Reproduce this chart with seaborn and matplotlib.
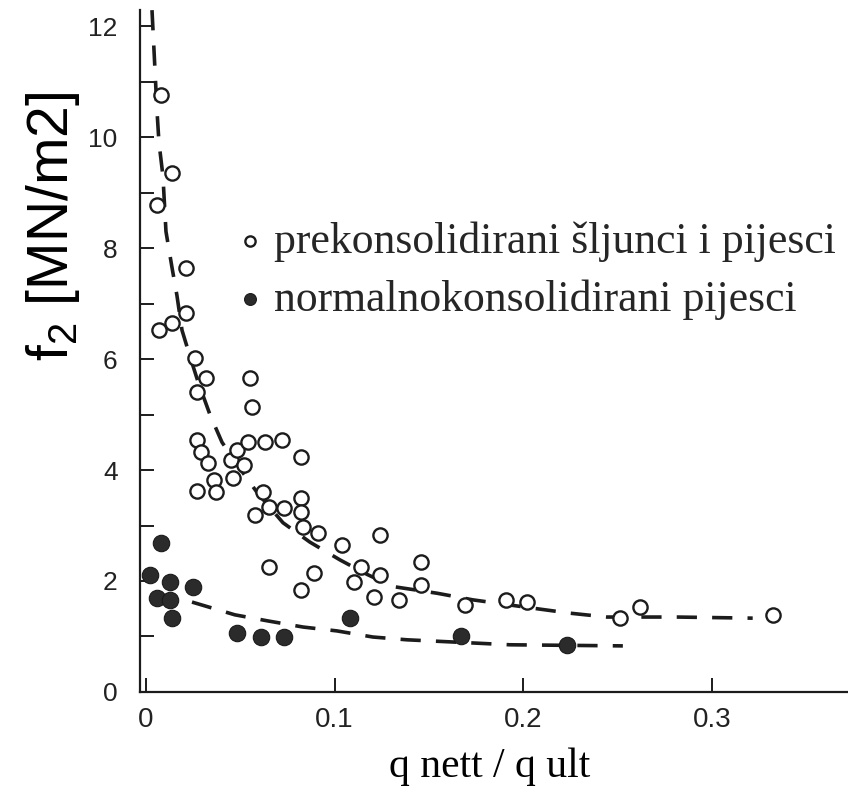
import numpy as np
import pandas as pd
import matplotlib
matplotlib.use("Agg")
import matplotlib.pyplot as plt
import seaborn as sns

# values
# open circles: overconsolidated gravels and sands
oc_x = [0.008, 0.014, 0.006, 0.021, 0.007, 0.014, 0.021, 0.026, 0.032, 0.027,
        0.055, 0.056, 0.027, 0.029, 0.033, 0.036, 0.027, 0.037, 0.046, 0.045,
        0.048, 0.052, 0.054, 0.063, 0.072, 0.082, 0.062, 0.058, 0.065, 0.073,
        0.082, 0.082, 0.083, 0.091, 0.065, 0.082, 0.089, 0.104, 0.110, 0.114,
        0.124, 0.124, 0.121, 0.134, 0.146, 0.146, 0.169, 0.191, 0.202, 0.251,
        0.262, 0.332]
oc_y = [10.76, 9.35, 8.77, 7.64, 6.52, 6.65, 6.83, 6.02, 5.66, 5.41,
        5.66, 5.14, 4.54, 4.32, 4.13, 3.82, 3.62, 3.60, 3.86, 4.18,
        4.36, 4.09, 4.50, 4.50, 4.54, 4.23, 3.60, 3.19, 3.33, 3.32,
        3.50, 3.24, 2.97, 2.86, 2.25, 1.84, 2.14, 2.65, 1.98, 2.25,
        2.83, 2.11, 1.71, 1.66, 2.34, 1.93, 1.57, 1.66, 1.62, 1.33,
        1.53, 1.39]

# filled circles: normally consolidated sands
nc_x = [0.008, 0.002, 0.013, 0.025, 0.006, 0.013, 0.014, 0.048, 0.061, 0.073,
        0.108, 0.167, 0.223]
nc_y = [2.68, 2.11, 1.98, 1.89, 1.69, 1.66, 1.33, 1.06, 0.99, 0.99,
        1.33, 1.01, 0.85]

# dashed trend curves
up_x = [0.0032, 0.0048, 0.0058, 0.0069, 0.009, 0.0106, 0.0138, 0.0164, 0.0191,
        0.0233, 0.0275, 0.0339, 0.0403, 0.0514, 0.0588, 0.0726, 0.0869, 0.1028,
        0.1171, 0.1308, 0.1541, 0.1732, 0.205, 0.2246, 0.2442, 0.2813, 0.3215]
up_y = [12.29, 11.2, 10.5, 9.9, 9.3, 8.3, 7.65, 7.15, 6.52,
        6.05, 5.6, 5.0, 4.5, 3.95, 3.6, 3.05, 2.7, 2.38,
        2.12, 1.9, 1.78, 1.66, 1.51, 1.42, 1.35, 1.35, 1.33]
lo_x = [0.0244, 0.0471, 0.0646, 0.0832, 0.1012, 0.1202, 0.1382, 0.1748, 0.1928, 0.2527]
lo_y = [1.62, 1.39, 1.28, 1.17, 1.10, 0.99, 0.94, 0.88, 0.85, 0.83]

lbl_oc = "prekonsolidirani šljunci i pijesci"
lbl_nc = "normalnokonsolidirani pijesci"
x_ticks = [0, 0.1, 0.2, 0.3]
x_ticklabels = ["0", "0.1", "0.2", "0.3"]
y_ticks = [0, 2, 4, 6, 8, 10, 12]

sns.set_style("ticks")
plt.rcParams["font.family"] = ["Liberation Sans", "DejaVu Sans"]

fig = plt.figure(figsize=(8.48, 7.99), dpi=100)
ax = fig.add_axes([0.165, 0.134, 0.835, 0.854])

ink = "#1c1c1c"
sns.lineplot(x=up_x, y=up_y, ax=ax, sort=False, estimator=None, color=ink)
sns.lineplot(x=lo_x, y=lo_y, ax=ax, sort=False, estimator=None, color=ink)
for line in ax.lines:
    line.set_linewidth(2.6)
    line.set_dashes((5.6, 4.2))
    line.set_dash_capstyle("butt")

sns.scatterplot(x=oc_x, y=oc_y, ax=ax, s=105, facecolor="white",
                edgecolor=ink, linewidth=1.7, label=lbl_oc, zorder=3)
sns.scatterplot(x=nc_x, y=nc_y, ax=ax, s=140, color="#2b2b2b",
                edgecolor="#1a1a1a", linewidth=0.8, label=lbl_nc, zorder=3)

ax.set_xlim(-0.0032, 0.372)
ax.set_ylim(0, 12.3)
ax.set_xticks(x_ticks)
ax.set_xticklabels(x_ticklabels)
ax.set_yticks(y_ticks)
ax.set_yticks([1, 3, 5, 7, 9, 11], minor=True)
ax.tick_params(axis="both", which="both", direction="in", length=10,
               width=1.4, color=ink, labelcolor="#222")
ax.tick_params(axis="y", which="major", labelsize=19, pad=16)
ax.tick_params(axis="x", which="major", labelsize=20, pad=11)
sns.despine(ax=ax)
for side in ["left", "bottom"]:
    ax.spines[side].set_linewidth(1.6)
    ax.spines[side].set_color(ink)

ax.set_xlabel("q nett / q ult", family="Liberation Serif", fontsize=30,
              color="black")
ax.xaxis.set_label_coords(0.494, -0.082)
ax.set_ylabel(r"f$_\mathregular{2}$ [MN/m2]", fontsize=41, color="black")
ax.yaxis.set_label_coords(-0.082, 0.683)

ax.legend(loc="upper left", bbox_to_anchor=(0.14, 0.69), frameon=False,
          prop={"family": "Liberation Serif", "size": 31.5}, markerscale=0.72,
          handlelength=0.5, handletextpad=0.3, labelspacing=0.4,
          borderaxespad=0, borderpad=0)

fig.savefig("out.png", dpi=100, facecolor="white")
